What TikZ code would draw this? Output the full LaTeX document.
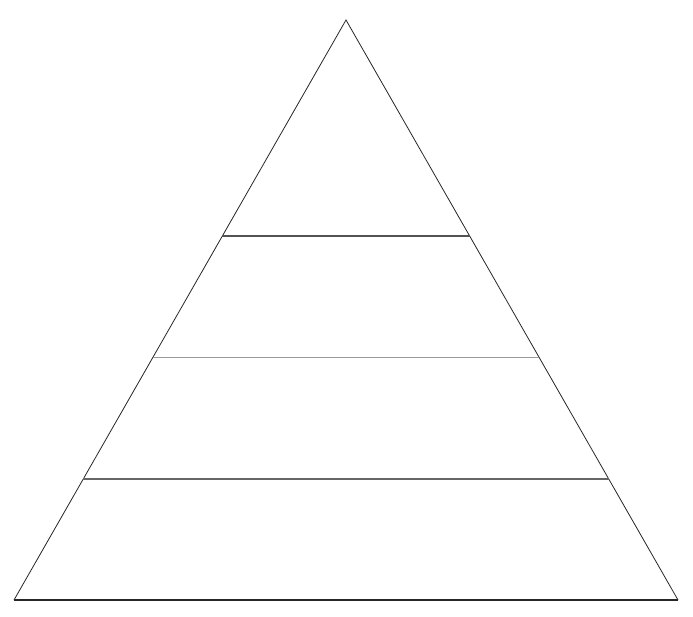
\documentclass[tikz,border=0pt]{standalone}
\usetikzlibrary{calc}
\begin{document}
\begin{tikzpicture}[x=1pt,y=-1pt,
  side/.style={draw=black!85,line width=0.8pt},
  baseline/.style={draw=black!85,line width=1.3pt},
  tier/.style={draw=black!68,line width=1.8pt},
  thintier/.style={draw=black!40,line width=0.9pt},
  thicktier/.style={draw=black!60,line width=2.2pt}]
\useasboundingbox (0,0) rectangle (693,617);
\fill[white] (0,0) rectangle (693,617);
\coordinate (apex) at (346,20);
\coordinate (bl) at (14,600);
\coordinate (br) at (678,600);
\draw[side] (bl) -- (apex) -- (br);
\draw[baseline] (bl) -- (br);
\draw[tier] ($(apex)!0.3724!(bl)$) -- ($(apex)!0.3724!(br)$);
\draw[thintier] ($(apex)!0.581!(bl)$) -- ($(apex)!0.581!(br)$);
\draw[thicktier] ($(apex)!0.7914!(bl)$) -- ($(apex)!0.7914!(br)$);
\end{tikzpicture}
\end{document}
